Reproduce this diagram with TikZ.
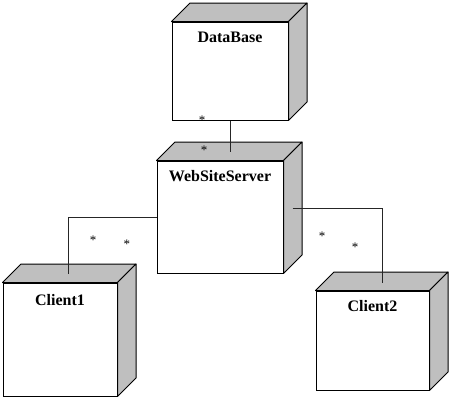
\documentclass[tikz,border=0pt]{standalone}
\usepackage{fontspec}
\setmainfont{Liberation Serif}
\usetikzlibrary{calc}
\tikzset{node3d/.style={draw=black,line width=1pt,fill=white,inner sep=0pt},
  face/.style={draw=black,fill=black!25,line width=1pt,line join=round},
  link/.style={draw=black!85,line width=1pt},
  title/.style={font=\fontsize{16}{19}\bfseries\selectfont,inner sep=0pt,anchor=north,yshift=-10pt},
  mult/.style={font=\fontsize{13}{15}\selectfont,inner sep=0pt}}

\begin{document}
\begin{tikzpicture}[x=1pt,y=-1pt]
  \useasboundingbox (0,0) rectangle (451,400);
  \node[node3d,minimum width=116pt,minimum height=98pt,label={[title,name=dbname]north:DataBase}] (db) at (230,71) {};
  \node[node3d,minimum width=126pt,minimum height=112pt,label={[title,name=srvname]north:WebSiteServer}] (srv) at (220,217) {};
  \node[node3d,minimum width=114pt,minimum height=113pt,label={[title,name=cAname,yshift=-2pt]north:Client1}] (c1) at (60,339.5) {};
  \node[node3d,minimum width=113pt,minimum height=99pt,label={[title,name=cBname]north:Client2}] (c2) at (372.5,340.5) {};
  \foreach \n in {db,srv,c1,c2} {
    \draw[face] (\n.north west) -- ++(18.5,-18.5) -- ($(\n.north east)+(18.5,-18.5)$) -- (\n.north east) -- cycle;
    \draw[face] (\n.north east) -- ++(18.5,-18.5) -- ($(\n.south east)+(18.5,-18.5)$) -- (\n.south east) -- cycle;
  }
  \coordinate (srvtop) at ([yshift=9pt]srv.north);
  \coordinate (srvside) at ([xshift=9pt,yshift=9pt]srv.east);
  \coordinate (cAtop) at ([xshift=8pt,yshift=9pt]c1.north);
  \coordinate (cBtop) at ([xshift=10pt,yshift=8pt]c2.north);
  \draw[link] (db.south) -- (db.south |- srvtop);
  \draw[link] (srv.west) -| (cAtop);
  \draw[link] (srvside) -| (cBtop);
  \node[mult] (m1) at (202,120) {*};
  \node[mult] (m2) at (204,150) {*};
  \node[mult] (m3) at (93,240) {*};
  \node[mult] (m4) at (127,244) {*};
  \node[mult] (m5) at (322,236) {*};
  \node[mult] (m6) at (355,247) {*};
\end{tikzpicture}
\end{document}
